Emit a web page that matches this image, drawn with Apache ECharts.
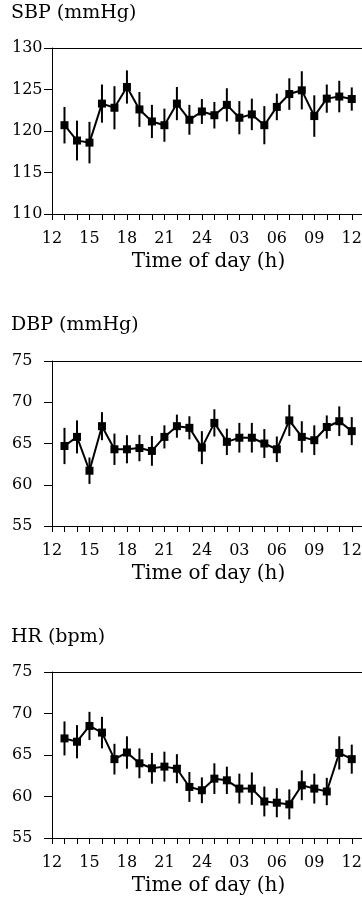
<!DOCTYPE html>
<html>
<head>
<meta charset="utf-8">
<script src="https://cdn.jsdelivr.net/npm/echarts@6/dist/echarts.min.js"></script>
<style>
  html, body { margin: 0; padding: 0; background: #fff; }
  #main { width: 362px; height: 901px; }
</style>
</head>
<body>
<div id="main"></div>
<script>
var hours = [13, 14, 15, 16, 17, 18, 19, 20, 21, 22, 23, 24, 25, 26, 27, 28, 29, 30, 31, 32, 33, 34, 35, 36];

var sbpMean = [120.7, 118.85, 118.6, 123.3, 122.8, 125.3, 122.6, 121.15, 120.7, 123.3, 121.35, 122.35,
               121.9, 123.15, 121.6, 122.0, 120.7, 122.9, 124.45, 124.9, 121.8, 123.9, 124.15, 123.85];
var sbpErr = [2.2, 2.4, 2.5, 2.3, 2.6, 2.0, 2.1, 2.0, 2.0, 2.0, 1.8, 1.5,
              1.6, 2.0, 2.0, 1.9, 2.3, 1.6, 1.9, 2.3, 2.5, 1.7, 1.9, 1.4];

var dbpMean = [64.7, 65.8, 61.7, 67.1, 64.3, 64.3, 64.45, 64.1, 65.8, 67.1, 66.9, 64.5,
               67.5, 65.2, 65.7, 65.7, 65.0, 64.3, 67.8, 65.8, 65.4, 67.0, 67.7, 66.5];
var dbpErr = [2.2, 2.0, 1.6, 1.7, 1.9, 1.7, 1.6, 1.8, 1.4, 1.4, 1.4, 2.0,
              1.65, 1.6, 1.8, 1.8, 1.75, 1.55, 1.9, 1.9, 1.8, 1.4, 1.8, 1.7];

var hrMean = [67.0, 66.6, 68.5, 67.7, 64.5, 65.3, 64.0, 63.4, 63.6, 63.35, 61.15, 60.75,
              62.15, 61.95, 60.95, 60.95, 59.4, 59.25, 59.05, 61.35, 60.95, 60.6, 65.25, 64.5];
var hrErr = [2.05, 2.0, 1.7, 1.9, 1.85, 1.95, 1.8, 1.85, 1.8, 1.75, 1.8, 1.55,
             1.85, 1.65, 1.8, 1.95, 1.8, 1.75, 1.8, 1.8, 1.8, 1.65, 2.0, 1.75];

// x tick labels every 3 h (hour value -> label)
var xTickHours = [12, 15, 18, 21, 24, 27, 30, 33, 36];
var xTickLabels = ['12', '15', '18', '21', '24', '03', '06', '09', '12'];

var panels = [
  { title: 'SBP (mmHg)', mean: sbpMean, err: sbpErr, ymin: 110, ymax: 130, top: 48, height: 166, titleTop: 4 },
  { title: 'DBP (mmHg)', mean: dbpMean, err: dbpErr, ymin: 55, ymax: 75, top: 361, height: 165, titleTop: 316 },
  { title: 'HR (bpm)', mean: hrMean, err: hrErr, ymin: 55, ymax: 75, top: 672, height: 166, titleTop: 628 }
];

var FONT = 'DejaVu Serif';
var XMIN = 12, XMAX = 37.06;

var option = {
  animation: false,
  backgroundColor: '#fff',
  textStyle: { fontFamily: FONT },
  title: [], grid: [], xAxis: [], yAxis: [], series: []
};

panels.forEach(function (p, i) {
  option.title.push({
    text: p.title, left: 11, top: p.titleTop, padding: 0,
    textStyle: { fontFamily: FONT, fontSize: 19, fontWeight: 'normal', color: '#000' }
  });
  option.grid.push({
    left: 52, right: -3, top: p.top, height: p.height,
    show: false, outerBoundsMode: 'none', containLabel: false
  });
  option.xAxis.push({
    type: 'value', gridIndex: i, position: 'bottom', min: XMIN, max: XMAX, interval: 1,
    name: 'Time of day (h)', nameLocation: 'middle', nameGap: 38,
    nameTextStyle: { fontFamily: FONT, fontSize: 20, color: '#000' },
    axisLine: { onZero: false, lineStyle: { color: '#000', width: 1 } },
    axisTick: { inside: false, length: 6, lineStyle: { color: '#000', width: 1 } },
    splitLine: { show: false },
    axisLabel: {
      fontFamily: FONT, fontSize: 16, color: '#000', margin: 17,
      showMaxLabel: false,
      formatter: function (v) {
        var k = xTickHours.indexOf(v);
        return k >= 0 ? xTickLabels[k] : '';
      }
    }
  });
  // top frame line
  option.xAxis.push({
    type: 'value', gridIndex: i, position: 'top', min: XMIN, max: XMAX,
    axisLine: { show: true, onZero: false, lineStyle: { color: '#000', width: 1 } },
    axisTick: { show: false }, axisLabel: { show: false }, splitLine: { show: false }
  });
  option.yAxis.push({
    type: 'value', gridIndex: i, position: 'left', min: p.ymin, max: p.ymax, interval: 5,
    axisLine: { show: true, onZero: false, lineStyle: { color: '#000', width: 1 } },
    axisTick: { show: true, inside: false, length: 8, lineStyle: { color: '#000', width: 1 } },
    splitLine: { show: false },
    axisLabel: { fontFamily: FONT, fontSize: 16, color: '#000', align: 'left', margin: 40 }
  });

  var xIdx = i * 2;
  option.series.push({
    type: 'custom', xAxisIndex: xIdx, yAxisIndex: i,
    data: hours.map(function (h, k) { return [h, p.mean[k] - p.err[k], p.mean[k] + p.err[k]]; }),
    renderItem: function (params, api) {
      var a = api.coord([api.value(0), api.value(1)]);
      var b = api.coord([api.value(0), api.value(2)]);
      return {
        type: 'line',
        shape: { x1: a[0], y1: a[1], x2: b[0], y2: b[1] },
        style: { stroke: '#000', lineWidth: 2 }
      };
    },
    z: 2
  });
  option.series.push({
    type: 'line', xAxisIndex: xIdx, yAxisIndex: i,
    data: hours.map(function (h, k) { return [h, p.mean[k]]; }),
    symbol: 'rect', symbolSize: 8, showSymbol: true,
    lineStyle: { color: '#000', width: 2 },
    itemStyle: { color: '#000' },
    z: 3
  });
});

var chart = echarts.init(document.getElementById('main'), null, { renderer: 'canvas' });
chart.setOption(option);
</script>
</body>
</html>
